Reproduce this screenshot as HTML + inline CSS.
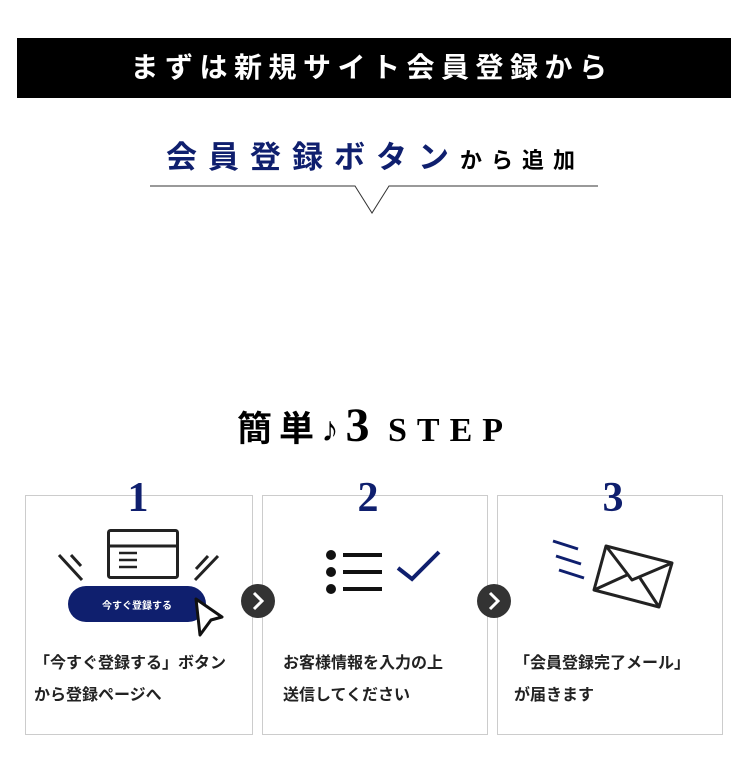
<!DOCTYPE html>
<html><head><meta charset="utf-8"><style>
body{margin:0;width:750px;height:778px;background:#fff;position:relative;font-family:"Liberation Sans","Noto Sans CJK JP",sans-serif;overflow:hidden}
.a{position:absolute}
.bar{left:17px;top:38px;width:714px;height:60px;background:#000;color:#fff;font-size:28px;font-weight:bold;text-align:center;line-height:60px;letter-spacing:6.5px;text-indent:-4px}
.box{border:1px solid #ccc;top:495px;height:238px;background:#fff}
.num{font-family:"Liberation Serif","Noto Serif CJK SC",serif;font-weight:bold;color:#0f1f6e;font-size:42px;width:60px;text-align:center;background:transparent;top:474px}
.txt{font-size:16px;font-weight:bold;color:#222;line-height:32px}
</style></head><body>
<div class="a bar">まずは新規サイト会員登録から</div>
<div class="a" style="left:0;width:750px;top:132px;text-align:center;font-weight:bold;white-space:nowrap"><span style="color:#0f1f6e;font-size:31px;letter-spacing:11px">会員登録ボタン</span><span style="font-size:22px;letter-spacing:9px">から追加</span></div>
<svg class="a" style="left:0;top:0" width="750" height="778">
<polyline points="150,186 355,186 372,213 389,186 598,186" fill="none" stroke="#333" stroke-width="1"/>
</svg>
<div class="a" style="left:0;width:750px;top:398px;text-align:center;white-space:nowrap;font-weight:bold"><span style="font-size:35px;letter-spacing:7px">簡単♪</span><span style="font-family:'Liberation Serif',serif;font-size:48px">3</span><span style="font-family:'Liberation Serif',serif;font-size:34px;letter-spacing:10px"> STEP</span></div>
<div class="a box" style="left:25px;width:226px"></div>
<div class="a box" style="left:262px;width:224px"></div>
<div class="a box" style="left:497px;width:224px"></div>
<div class="a num" style="left:108px">1</div>
<div class="a num" style="left:338px">2</div>
<div class="a num" style="left:583px">3</div>
<svg class="a" style="left:0;top:0" width="750" height="778">
<rect x="108.5" y="530.5" width="69" height="47" rx="2" fill="#fff" stroke="#222" stroke-width="3"/>
<line x1="108" y1="546" x2="178" y2="546" stroke="#222" stroke-width="3"/>
<g stroke="#222" stroke-width="2.5"><line x1="119" y1="553" x2="137" y2="553"/><line x1="119" y1="560" x2="137" y2="560"/><line x1="119" y1="567" x2="137" y2="567"/>
<line x1="59" y1="555" x2="82" y2="580" stroke-width="3"/><line x1="71" y1="555" x2="81" y2="566" stroke-width="3"/>
<line x1="218" y1="556" x2="195" y2="580" stroke-width="3"/><line x1="208" y1="556" x2="196" y2="569" stroke-width="3"/></g>
<rect x="68" y="586" width="138" height="36" rx="18" fill="#0f1f6e"/>
<text x="137" y="609" font-size="10" font-weight="bold" fill="#fff" text-anchor="middle" font-family="Liberation Sans,Noto Sans CJK JP,sans-serif">今すぐ登録する</text>
<polygon points="196,599 222,617 211,620 200,635" fill="#fff" stroke="#111" stroke-width="3" stroke-linejoin="round"/>
<g fill="#111"><circle cx="331" cy="555" r="5"/><circle cx="331" cy="572" r="5"/><circle cx="331" cy="589" r="5"/></g>
<g stroke="#111" stroke-width="4"><line x1="343" y1="555" x2="382" y2="555"/><line x1="343" y1="572" x2="382" y2="572"/><line x1="343" y1="589" x2="382" y2="589"/></g>
<polyline points="398,568 412,579 439,552" fill="none" stroke="#0f1f6e" stroke-width="4"/>
<g stroke="#0f1f6e" stroke-width="3"><line x1="553" y1="541" x2="578" y2="549"/><line x1="556" y1="556" x2="581" y2="564"/><line x1="559" y1="570" x2="584" y2="578"/></g>
<g fill="none" stroke="#222" stroke-width="3" stroke-linejoin="round">
<polygon points="606,546 672,563 659,607 594,590"/>
<polyline points="606,546 632,580 672,563"/>
<line x1="594" y1="590" x2="627" y2="575"/><line x1="659" y1="607" x2="640" y2="578"/></g>
<circle cx="258" cy="601" r="17" fill="#333"/><polyline points="254,593 262,601 254,609" fill="none" stroke="#fff" stroke-width="3"/>
<circle cx="494" cy="601" r="17" fill="#333"/><polyline points="490,593 498,601 490,609" fill="none" stroke="#fff" stroke-width="3"/>
</svg>
<div class="a txt" style="left:34px;top:648px">「今すぐ登録する」ボタン<br>から登録ページへ</div>
<div class="a txt" style="left:283px;top:648px">お客様情報を入力の上<br>送信してください</div>
<div class="a txt" style="left:514px;top:648px">「会員登録完了メール」<br>が届きます</div>
</body></html>
